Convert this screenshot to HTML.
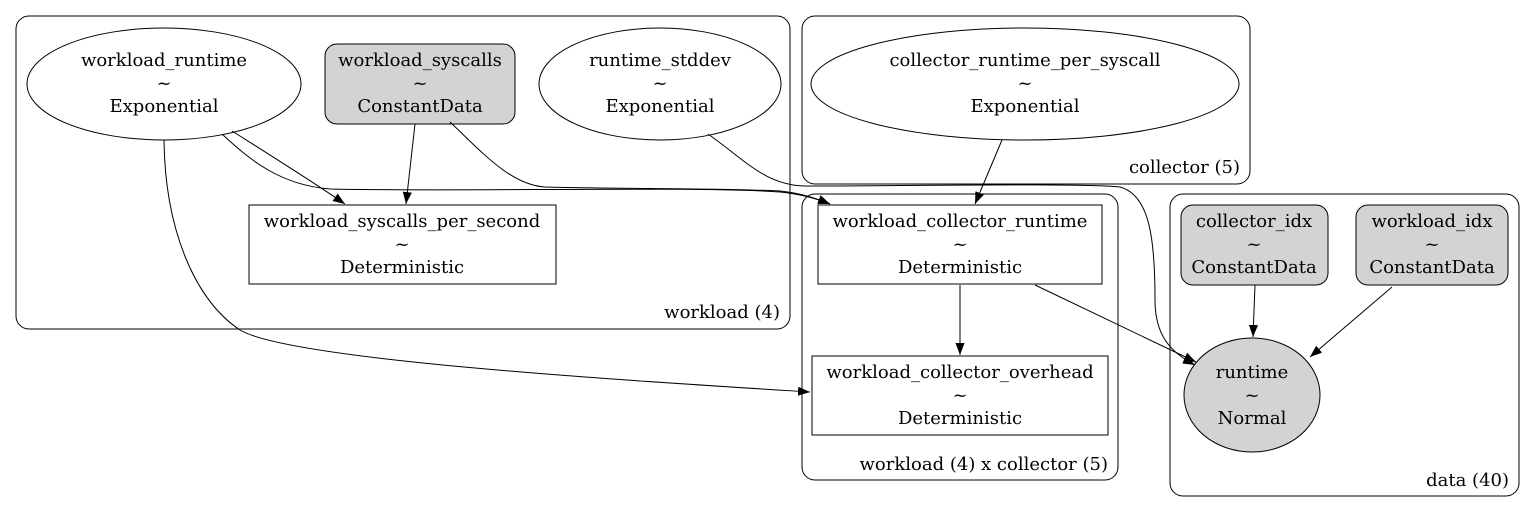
<!DOCTYPE html>
<html><head><meta charset="utf-8"><style>
html,body{margin:0;padding:0;background:#fff;}
svg{display:block;}
text{font-family:"DejaVu Serif",serif;font-size:18px;fill:#000;}
</style></head><body>
<svg width="1535" height="513" viewBox="0 0 1535 513" xmlns="http://www.w3.org/2000/svg">
<defs>
<marker id="a" viewBox="0 0 10 10" refX="10" refY="5" markerWidth="12" markerHeight="12" markerUnits="userSpaceOnUse" orient="auto">
<path d="M0,1.2 L10,5 L0,8.8 Z" fill="#000"/>
</marker>
</defs>
<g fill="none" stroke="#000" stroke-width="1">
<rect x="16" y="16" width="774" height="313" rx="13"/>
<rect x="802" y="16" width="448" height="168" rx="13"/>
<rect x="802" y="194" width="316" height="286" rx="13"/>
<rect x="1170" y="194" width="349" height="302" rx="13"/>
</g>
<g text-anchor="end">
<text x="780" y="318">workload (4)</text>
<text x="1240" y="173">collector (5)</text>
<text x="1108" y="470">workload (4) x collector (5)</text>
<text x="1509" y="486">data (40)</text>
</g>
<g stroke="#000" stroke-width="1">
<ellipse cx="164" cy="84" rx="137" ry="56" fill="#fff"/>
<rect x="325" y="44" width="190" height="80" rx="12" fill="#d3d3d3"/>
<ellipse cx="660" cy="84" rx="121" ry="56" fill="#fff"/>
<ellipse cx="1025" cy="84" rx="214" ry="56" fill="#fff"/>
<rect x="249" y="205" width="307" height="79" fill="#fff"/>
<rect x="818" y="205" width="284" height="79" fill="#fff"/>
<rect x="812" y="356" width="296" height="79" fill="#fff"/>
<rect x="1181" y="205" width="147" height="80" rx="12" fill="#d3d3d3"/>
<rect x="1356" y="205" width="152" height="80" rx="12" fill="#d3d3d3"/>
<ellipse cx="1252" cy="395" rx="68" ry="57" fill="#d3d3d3"/>
</g>
<g text-anchor="middle">
<text x="164" y="66">workload_runtime</text><text x="164" y="89">~</text><text x="164" y="112">Exponential</text>
<text x="420" y="66">workload_syscalls</text><text x="420" y="89">~</text><text x="420" y="112">ConstantData</text>
<text x="660" y="66">runtime_stddev</text><text x="660" y="89">~</text><text x="660" y="112">Exponential</text>
<text x="1025" y="66">collector_runtime_per_syscall</text><text x="1025" y="89">~</text><text x="1025" y="112">Exponential</text>
<text x="402" y="227">workload_syscalls_per_second</text><text x="402" y="250">~</text><text x="402" y="273">Deterministic</text>
<text x="960" y="227">workload_collector_runtime</text><text x="960" y="250">~</text><text x="960" y="273">Deterministic</text>
<text x="960" y="378">workload_collector_overhead</text><text x="960" y="401">~</text><text x="960" y="424">Deterministic</text>
<text x="1254" y="227">collector_idx</text><text x="1254" y="250">~</text><text x="1254" y="273">ConstantData</text>
<text x="1432" y="227">workload_idx</text><text x="1432" y="250">~</text><text x="1432" y="273">ConstantData</text>
<text x="1252" y="378">runtime</text><text x="1252" y="401">~</text><text x="1252" y="424">Normal</text>
</g>
<g fill="none" stroke="#000" stroke-width="1" marker-end="url(#a)">
<path d="M232,131 C270,155 310,180 345,204"/>
<path d="M222,134 C250,160 280,185 330,189 C450,192 700,186 780,192 C800,194 815,198 830,204"/>
<path d="M415,124 L406,204"/>
<path d="M450,122 C480,150 510,185 545,187 C620,189 720,188 780,191 C800,193 815,198 830,204"/>
<path d="M708,134 C745,160 765,185 805,186 C900,186 1080,183 1120,187 C1150,195 1155,240 1155,300 C1155,335 1170,352 1195,365"/>
<path d="M1002,140 L975,204"/>
<path d="M164,140 C165,230 195,300 240,330 C290,360 620,380 810,392"/>
<path d="M960,285 L960,355"/>
<path d="M1035,285 L1196,362"/>
<path d="M1255,285 L1253,337"/>
<path d="M1392,287 L1310,357"/>
</g>
</svg>
</body></html>
